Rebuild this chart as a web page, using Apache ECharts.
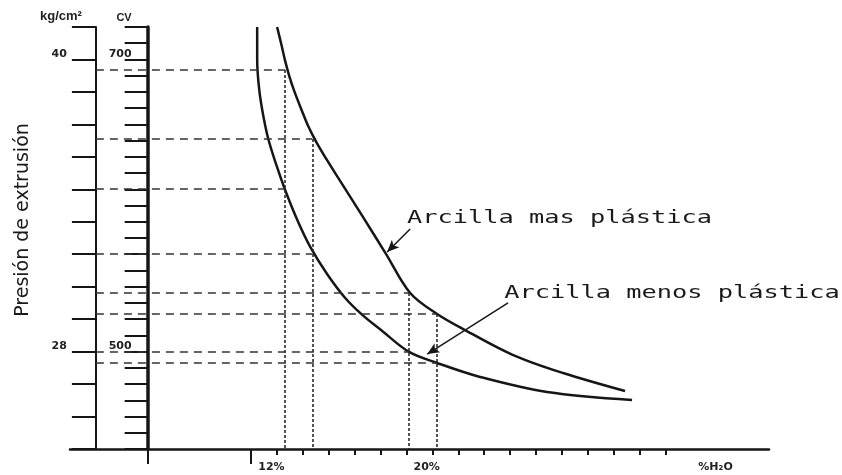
<!DOCTYPE html>
<html>
<head>
<meta charset="utf-8">
<script src="https://cdn.jsdelivr.net/npm/echarts@6/dist/echarts.min.js"></script>
<style>
html, body { margin: 0; padding: 0; background: #fff; }
#extrusion { width: 842px; height: 475px; }
</style>
</head>
<body>
<div id="extrusion"></div>
<script>
// x: divisiones de la escala de humedad, y: divisiones de la escala CV
var xMin = -7, xMax = 20
var yMin = 0, yMax = 26
var kgAxisAt = -6, cvAxisAt = -4

var xTicks = [0,1,2,3,4,5,6,7,8,9,10,11,12,13,14,15,16]
var xLabels = {0: '12%', 6: '20%', 17: '%H₂O'}
var kgLabels = {6: '28', 24: '40'}
var cvLabels = {6: '500', 24: '700'}

// Arcilla mas plástica
var masX = [1.00, 1.16, 1.31, 1.47, 1.66, 1.93, 2.20, 2.51, 2.90, 3.36, 4.29, 5.21, 6.14, 7.18, 8.26, 10.12, 12.05, 14.44]
var masY = [26.00, 24.95, 23.91, 22.98, 22.06, 20.95, 19.90, 18.92, 17.87, 16.70, 14.36, 12.01, 9.61, 8.32, 7.33, 5.79, 4.68, 3.57]
// Arcilla menos plástica
var menosX = [0.23, 0.23, 0.31, 0.46, 0.66, 0.97, 1.31, 1.78, 2.28, 2.93, 3.63, 4.29, 5.06, 6.10, 7.18, 8.84, 11.43, 14.71]
var menosY = [26.00, 23.97, 22.12, 20.58, 19.10, 17.50, 15.96, 14.11, 12.45, 10.78, 9.30, 8.26, 7.27, 5.98, 5.30, 4.44, 3.51, 3.02]

// lineas de lectura
var guideX = [1.31, 2.36, 6.10, 7.18]
var guideMas = [23.35, 19.10, 9.61, 8.32]
var guideMenos = [16.02, 12.01, 5.98, 5.30]

var notes = ['Arcilla mas plástica', 'Arcilla menos plástica']
var noteAt = [[6.02, 14.2], [9.77, 9.55]]
var arrowFrom = [[6.14, 13.55], [9.92, 9.0]]
var arrowTo = [[5.25, 12.14], [6.80, 5.85]]

var ink = '#161616'
var gridLeft = 70, gridRight = 73
var pxPerX = (842 - gridLeft - gridRight) / (xMax - xMin)
var kgOffset = -(kgAxisAt - xMin) * pxPerX
var cvOffset = -(cvAxisAt - xMin) * pxPerX

function zip(xs, ys) {
    var out = []
    for (var i = 0; i < xs.length; i++) out.push([xs[i], ys[i]])
    return out
}

var guides = []
for (var i = 0; i < guideX.length; i++) {
    guides.push([{coord: [kgAxisAt, guideMas[i]]}, {coord: [guideX[i], guideMas[i]]}])
    guides.push([{coord: [kgAxisAt, guideMenos[i]]}, {coord: [guideX[i], guideMenos[i]]}])
    guides.push([{coord: [guideX[i], guideMas[i]], lineStyle: {type: [3, 2], width: 1.6, color: '#2a2a2a'}}, {coord: [guideX[i], yMin]}])
}
var arrows = []
for (var j = 0; j < arrowFrom.length; j++) {
    arrows.push([{coord: arrowFrom[j]}, {coord: arrowTo[j]}])
}

var labelFont = {fontSize: 11, fontWeight: 'bold', color: '#222', fontFamily: 'DejaVu Sans'}

var chart = echarts.init(document.getElementById('extrusion'))

var option = {
    backgroundColor: '#ffffff',
    animation: false,
    grid: {left: gridLeft, right: gridRight, top: 27, bottom: 26},
    xAxis: [{
        type: 'value',
        min: xMin,
        max: xMax,
        position: 'bottom',
        axisLine: {onZero: false, lineStyle: {color: ink, width: 2.5}},
        axisTick: {customValues: xTicks, length: 6, lineStyle: {color: ink, width: 2}},
        axisLabel: Object.assign({
            customValues: [0, 6, 17],
            formatter: function (v) { return xLabels[v] || '' },
            align: 'left',
            padding: [0, 0, 0, 7],
            margin: 13
        }, labelFont),
        splitLine: {show: false}
    }, {
        // marcas largas bajo la base (12% y eje CV)
        type: 'value',
        min: xMin,
        max: xMax,
        position: 'bottom',
        axisLine: {show: false, onZero: false},
        axisTick: {customValues: [cvAxisAt, 0], length: 15, lineStyle: {color: ink, width: 2}},
        axisLabel: {show: false},
        splitLine: {show: false}
    }],
    yAxis: [{
        type: 'value',
        min: yMin,
        max: yMax,
        interval: 2,
        position: 'left',
        offset: kgOffset,
        axisLine: {show: true, onZero: false, lineStyle: {color: ink, width: 2}},
        axisTick: {show: true, length: 24, lineStyle: {color: ink, width: 2}},
        axisLabel: Object.assign({
            formatter: function (v) { return kgLabels[v] || '' },
            margin: 29,
            verticalAlign: 'bottom'
        }, labelFont),
        splitLine: {show: false},
        name: 'kg/cm²',
        nameLocation: 'end',
        nameGap: 4,
        nameTextStyle: {fontSize: 13, fontWeight: 'bold', color: '#222', align: 'right', verticalAlign: 'bottom', padding: [0, 14, 0, 0]}
    }, {
        type: 'value',
        min: yMin,
        max: yMax,
        interval: 1,
        position: 'left',
        offset: cvOffset,
        axisLine: {show: true, onZero: false, lineStyle: {color: ink, width: 3.5}},
        axisTick: {show: true, length: 23, lineStyle: {color: ink, width: 2}},
        axisLabel: Object.assign({
            formatter: function (v) { return cvLabels[v] || '' },
            margin: 16,
            verticalAlign: 'bottom'
        }, labelFont),
        splitLine: {show: false},
        name: 'CV',
        nameLocation: 'end',
        nameGap: 4,
        nameTextStyle: {fontSize: 11, fontWeight: 'bold', color: '#222', align: 'right', verticalAlign: 'bottom', padding: [0, 16, 0, 0]}
    }, {
        type: 'value',
        min: yMin,
        max: yMax,
        position: 'left',
        offset: kgOffset,
        axisLine: {show: false, onZero: false},
        axisTick: {show: false},
        axisLabel: {show: false},
        splitLine: {show: false},
        name: 'Presión de extrusión',
        nameLocation: 'middle',
        nameGap: 63,
        nameTextStyle: {fontSize: 19, color: '#1a1a1a', fontFamily: 'DejaVu Sans', padding: [0, 0, 0, 36]}
    }],
    series: [{
        name: 'Arcilla mas plástica',
        type: 'line',
        data: zip(masX, masY),
        smooth: 0.35,
        showSymbol: false,
        lineStyle: {color: ink, width: 2.5},
        markLine: {
            silent: true,
            symbol: ['none', 'none'],
            label: {show: false},
            lineStyle: {color: '#333', width: 1.5, type: [8, 6]},
            data: guides
        }
    }, {
        name: 'Arcilla menos plástica',
        type: 'line',
        data: zip(menosX, menosY),
        smooth: 0.35,
        showSymbol: false,
        lineStyle: {color: ink, width: 2.5},
        markLine: {
            silent: true,
            symbol: ['none', 'arrow'],
            symbolSize: [8, 12],
            label: {show: false},
            lineStyle: {color: ink, width: 1.5, type: 'solid'},
            data: arrows
        }
    }]
}
chart.setOption(option)

// textos de las curvas, ubicados con las coordenadas del grafico
var texts = []
for (var k = 0; k < notes.length; k++) {
    var p = chart.convertToPixel({xAxisIndex: 0, yAxisIndex: 0}, noteAt[k])
    texts.push({
        type: 'text',
        x: p[0],
        y: p[1],
        scaleX: 1.49,
        silent: true,
        style: {
            text: notes[k],
            font: '17px "DejaVu Sans Mono"',
            fill: '#1a1a1a',
            align: 'left',
            verticalAlign: 'middle'
        }
    })
}
chart.setOption({graphic: texts})
</script>
</body>
</html>
